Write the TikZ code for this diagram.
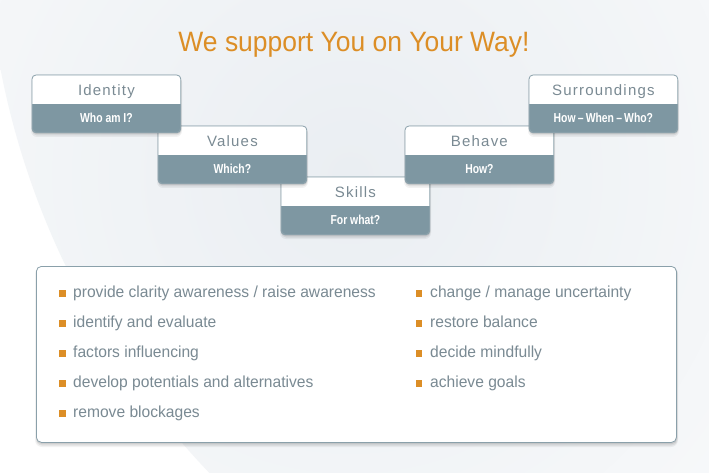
\documentclass[tikz,border=0pt]{standalone}
\usepackage{fontspec}
\setmainfont{Liberation Sans}
\newfontfamily\titlefont[FakeStretch=0.945]{Liberation Sans}
\newfontfamily\labfont[LetterSpace=8]{Liberation Sans}
\newfontfamily\subfont[FakeStretch=0.80]{Liberation Sans}
\newfontfamily\listfont[FakeStretch=0.975]{Liberation Sans}
\definecolor{slate}{HTML}{7E97A2}
\definecolor{bordc}{HTML}{8AA0AA}
\definecolor{labc}{HTML}{7A8A93}
\definecolor{orng}{HTML}{DC8E26}
\definecolor{bgc}{HTML}{EAEEF2}
\tikzset{
  boxbase/.style={draw=bordc, line width=0.8pt, fill=slate, rounded corners=4pt,
     minimum width=148pt, minimum height=57pt, inner sep=0pt, anchor=north west},
  labtxt/.style={text=labc, font=\labfont\fontsize{15}{17}\selectfont, inner sep=0pt},
  subtxt/.style={text=white, font=\subfont\bfseries\fontsize{13}{15}\selectfont, inner sep=0pt},
  listtxt/.style={text=labc, font=\listfont\fontsize{16}{18}\selectfont, inner sep=0pt, anchor=base west},
  bul/.style={fill=orng, minimum size=6.5pt, inner sep=0pt, draw=none},
}
\newcommand\softshadow[5]{% x y w h r
  \fill[black, opacity=0.05, rounded corners=#5+2] (#1-1,#2+1) rectangle (#1+#3+2,#2+#4+5);
  \fill[black, opacity=0.07, rounded corners=#5+1] (#1,#2+1) rectangle (#1+#3+1.5,#2+#4+3.5);
  \fill[black, opacity=0.08, rounded corners=#5] (#1+0.5,#2+1) rectangle (#1+#3+1,#2+#4+2);
}
\newcommand\mystepbox[5]{% name, x, y, title, sub
  \softshadow{#2}{#3}{148}{57}{4}
  \node[boxbase] (#1) at (#2,#3) {};
  \begin{scope}
    \clip[rounded corners=4pt] (#1.north west) rectangle (#1.south east);
    \fill[white] (#1.north west) rectangle ([yshift=-29pt]#1.north east);
  \end{scope}
  \draw[bordc, line width=0.8pt, rounded corners=4pt] (#1.north west) rectangle (#1.south east);
  \node[labtxt, anchor=base] (#1-t) at ([yshift=-20.5pt]#1.north) {#4};
  \node[subtxt, anchor=base] (#1-s) at ([yshift=-47.5pt]#1.north) {#5};
}
\begin{document}
\begin{tikzpicture}[x=1pt,y=-1pt]
\useasboundingbox (0,0) rectangle (709,473);
\fill[white] (0,0) rectangle (709,473);
\begin{scope}
  \clip (792,-84) circle (806);
  \shade[inner color=bgc, outer color=white] (350,175) circle (780);
\end{scope}

\node[text=orng, font=\titlefont\fontsize{28}{30}\selectfont, inner sep=0pt, anchor=base] (title) at (354,52) {We support You on Your Way!};

\mystepbox{skills}{281}{177}{Skills}{For what?}
\mystepbox{values}{158}{126}{Values}{Which?}
\mystepbox{behave}{405}{126}{Behave}{How?}
\mystepbox{identity}{32}{75}{Identity}{Who am I?}
\mystepbox{surr}{529}{75}{Surroundings}{How\,\textendash\,When\,\textendash\,Who?}

\softshadow{36}{266}{640}{176}{5}
\node[draw=bordc, line width=0.8pt, fill=white, rounded corners=5pt, minimum width=640pt, minimum height=176pt, anchor=north west, inner sep=0pt] (list) at (36,266) {};

\node[bul] (bl1) at (62.5,293.5) {};
\node[listtxt] (l1) at (73,297.5) {provide clarity awareness / raise awareness};
\node[bul] (bl2) at (62.5,323.5) {};
\node[listtxt] (l2) at (73,327.5) {identify and evaluate};
\node[bul] (bl3) at (62.5,353.5) {};
\node[listtxt] (l3) at (73,357.5) {factors influencing};
\node[bul] (bl4) at (62.5,383.5) {};
\node[listtxt] (l4) at (73,387.5) {develop potentials and alternatives};
\node[bul] (bl5) at (62.5,413.5) {};
\node[listtxt] (l5) at (73,417.5) {remove blockages};

\node[bul] (br1) at (419,293.5) {};
\node[listtxt] (r1) at (430,297.5) {change / manage uncertainty};
\node[bul] (br2) at (419,323.5) {};
\node[listtxt] (r2) at (430,327.5) {restore balance};
\node[bul] (br3) at (419,353.5) {};
\node[listtxt] (r3) at (430,357.5) {decide mindfully};
\node[bul] (br4) at (419,383.5) {};
\node[listtxt] (r4) at (430,387.5) {achieve goals};
\end{tikzpicture}
\end{document}
